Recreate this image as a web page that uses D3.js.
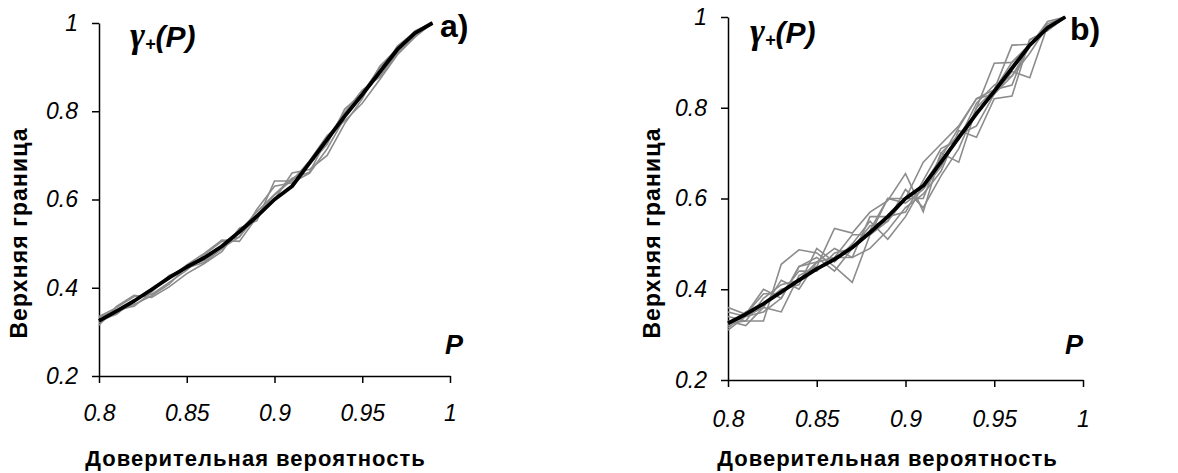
<!DOCTYPE html>
<html>
<head>
<meta charset="utf-8">
<script src="https://cdn.jsdelivr.net/npm/d3@7"></script>
<style>
  body { margin: 0; background: #fff; }
  svg { display: block; font-family: "Liberation Sans", Arial, sans-serif; }
  .tick text { font-family: "Liberation Sans", Arial, sans-serif; font-style: italic; font-size: 23px; fill: #000; }
  .domain, .tick line { stroke: #000; stroke-width: 1.5px; }
</style>
</head>
<body>
<svg width="1178" height="473"></svg>
<script>
// confidence probability P
var pValues = [0.80,0.81,0.82,0.83,0.84,0.85,0.86,0.87,0.88,0.89,0.90,0.91,0.92,0.93,0.94,0.95,0.96,0.97,0.98,0.99];
var xTicks = [0.8, 0.85, 0.9, 0.95, 1];
var yTicks = [0.2, 0.4, 0.6, 0.8, 1];

// mean upper bound (thick black)
var meanA = [0.325,0.347,0.37,0.396,0.423,0.447,0.468,0.494,0.527,0.562,0.6,0.63,0.683,0.736,0.789,0.838,0.889,0.94,0.977,1.0];
var meanB = [0.325,0.345,0.368,0.394,0.42,0.445,0.466,0.492,0.525,0.56,0.6,0.628,0.68,0.734,0.787,0.836,0.887,0.938,0.976,1.0];

// individual runs, panel a)
var runsA = [
  [0.335,0.355,0.38,0.385,0.412,0.44,0.475,0.505,0.515,0.565,0.61,0.645,0.68,0.725,0.805,0.84,0.9,0.935,0.975,1.0],
  [0.32,0.345,0.362,0.382,0.408,0.448,0.462,0.49,0.515,0.578,0.63,0.638,0.66,0.715,0.785,0.835,0.885,0.948,0.98,1.0],
  [0.315,0.358,0.383,0.378,0.402,0.432,0.455,0.482,0.535,0.552,0.642,0.642,0.688,0.745,0.778,0.818,0.872,0.928,0.968,1.0],
  [0.325,0.34,0.372,0.398,0.42,0.452,0.478,0.508,0.505,0.56,0.6,0.66,0.668,0.7,0.772,0.828,0.902,0.942,0.982,1.0],
  [0.332,0.35,0.358,0.39,0.428,0.445,0.458,0.488,0.528,0.572,0.612,0.648,0.662,0.738,0.797,0.848,0.878,0.932,0.97,1.0]
];

// individual runs, panel b)
var runsB = [
  [0.36,0.345,0.40,0.38,0.45,0.46,0.47,0.52,0.52,0.60,0.60,0.68,0.72,0.76,0.82,0.84,0.90,0.94,0.98,1.0],
  [0.34,0.33,0.33,0.455,0.487,0.48,0.45,0.415,0.52,0.55,0.60,0.60,0.70,0.74,0.79,0.84,0.85,0.95,0.97,1.0],
  [0.31,0.34,0.36,0.35,0.43,0.45,0.534,0.524,0.57,0.595,0.655,0.571,0.70,0.68,0.80,0.898,0.90,0.94,0.985,1.0],
  [0.32,0.35,0.37,0.40,0.41,0.49,0.46,0.50,0.55,0.51,0.56,0.63,0.69,0.756,0.82,0.83,0.87,0.92,0.98,1.0],
  [0.33,0.32,0.36,0.42,0.40,0.46,0.47,0.47,0.49,0.53,0.58,0.61,0.66,0.75,0.735,0.82,0.826,0.95,0.97,1.0],
  [0.35,0.34,0.35,0.38,0.45,0.47,0.44,0.49,0.54,0.55,0.62,0.58,0.65,0.71,0.80,0.84,0.938,0.94,0.975,1.0],
  [0.315,0.345,0.39,0.39,0.44,0.44,0.48,0.49,0.53,0.60,0.59,0.62,0.67,0.74,0.76,0.83,0.88,0.866,0.98,1.0],
  [0.325,0.33,0.38,0.41,0.42,0.46,0.49,0.47,0.56,0.56,0.57,0.64,0.71,0.73,0.81,0.85,0.87,0.935,0.99,1.0]
];

var svg = d3.select("svg");
var fmt = function(d) { return String(+d.toFixed(2)); };

function drawPanel(o) {
  var x = d3.scaleLinear().domain([0.8, 1]).range([o.x0, o.x1]);
  var y = d3.scaleLinear().domain([0.2, 1]).range([o.y1, o.y0]);
  var g = svg.append("g");

  g.append("g")
    .attr("transform", "translate(0," + o.y1 + ")")
    .call(d3.axisBottom(x).tickValues(xTicks).tickFormat(fmt).tickSize(7).tickSizeOuter(0).tickPadding(o.xPad))
    .call(function(a) { a.selectAll("text").attr("fill", "#000"); });

  g.append("g")
    .attr("transform", "translate(" + o.x0 + ",0)")
    .call(d3.axisLeft(y).tickValues(yTicks).tickFormat(fmt).tickSize(7).tickSizeOuter(0).tickPadding(14))
    .call(function(a) { a.selectAll("text").attr("fill", "#000"); });

  var line = d3.line()
    .x(function(d, i) { return x(pValues[i]); })
    .y(function(d) { return y(d); });

  g.selectAll(".run")
    .data(o.runs)
    .enter().append("path")
    .attr("class", "run")
    .attr("fill", "none")
    .attr("stroke", "#8c8c8c")
    .attr("stroke-width", 1.6)
    .attr("d", line);

  g.append("path")
    .datum(o.mean)
    .attr("fill", "none")
    .attr("stroke", "#000")
    .attr("stroke-width", 3.8)
    .attr("stroke-linejoin", "round")
    .attr("d", line);

  // axis titles
  g.append("text")
    .attr("x", (o.x0 + o.x1) / 2 + o.xtShift)
    .attr("y", 466)
    .attr("text-anchor", "middle")
    .attr("font-weight", "bold")
    .attr("font-size", 22)
    .attr("letter-spacing", 1)
    .text("Доверительная вероятность");

  g.append("text")
    .attr("transform", "translate(" + o.ytX + "," + 233 + ") rotate(-90)")
    .attr("text-anchor", "middle")
    .attr("font-weight", "bold")
    .attr("font-size", 23)
    .attr("letter-spacing", 1.1)
    .text("Верхняя граница");

  // gamma label
  var gl = g.append("text")
    .attr("x", o.gX)
    .attr("y", o.gY)
    .attr("font-weight", "bold")
    .attr("font-style", "italic");
  gl.append("tspan").attr("font-size", 36).attr("font-family", "Liberation Serif").text("γ");
  gl.append("tspan").attr("font-size", 18).attr("dy", 3).text("+");
  gl.append("tspan").attr("font-size", 30).attr("dy", -3).text("(P)");

  g.append("text")
    .attr("x", o.pX)
    .attr("y", 354)
    .attr("font-weight", "bold")
    .attr("font-style", "italic")
    .attr("font-size", 27)
    .text("P");

  g.append("text")
    .attr("x", o.lX)
    .attr("y", o.lY)
    .attr("font-weight", "bold")
    .attr("font-size", 32)
    .text(o.label);
}

drawPanel({ x0: 99, x1: 450, y0: 23, y1: 376, xPad: 22, runs: runsA, mean: meanA,
  xtShift: -19, ytX: 27, gX: 130, gY: 47, pX: 445, lX: 440, lY: 37, label: "a)" });
drawPanel({ x0: 728, x1: 1083, y0: 17, y1: 380, xPad: 24, runs: runsB, mean: meanB,
  xtShift: -18, ytX: 660, gX: 750, gY: 43, pX: 1065, lX: 1070, lY: 40, label: "b)" });
</script>
</body>
</html>
